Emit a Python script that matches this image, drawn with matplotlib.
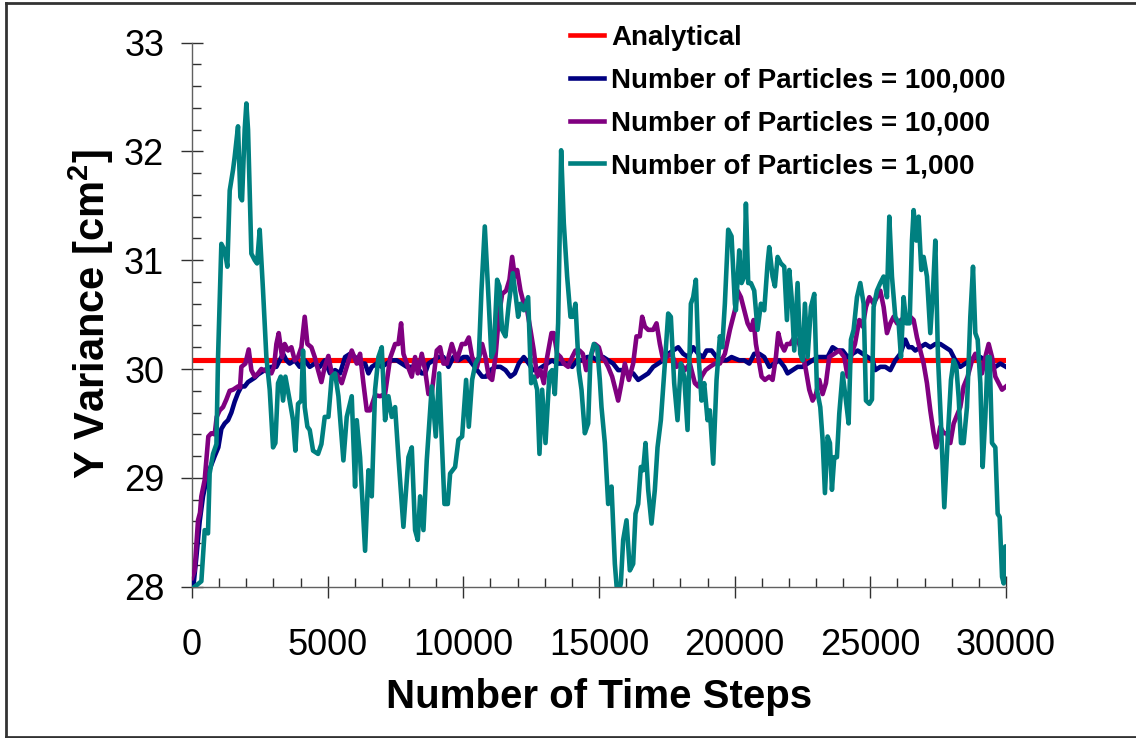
import matplotlib
matplotlib.use("Agg")
import matplotlib.pyplot as plt
from matplotlib.lines import Line2D
from matplotlib.ticker import MultipleLocator

plt.rcParams['font.family'] = ['Liberation Sans', 'DejaVu Sans']
plt.rcParams['mathtext.fontset'] = 'custom'
plt.rcParams['mathtext.rm'] = 'Liberation Sans'
plt.rcParams['mathtext.bf'] = 'Liberation Sans:bold'

# ---- data -------------------------------------------------------------
analytical_value = 30.08
x_range = [0, 30000]

steps_100k = [50, 160, 283, 406, 529, 652, 836, 970, 1082, 1205, 1328, 1451, 1573, 1696,
              1819, 1942, 2065, 2188, 2311, 2434, 2557, 2741, 2925, 3110, 3233, 3356, 3479,
              3601, 3786, 3970, 4154, 4339, 4523, 4707, 4892, 5088, 5273, 5457, 5641, 5826,
              6010, 6194, 6379, 6502, 6625, 6809, 6993, 7178, 7362, 7546, 7731, 7915, 8100,
              8284, 8468, 8591, 8714, 8898, 9083, 9267, 9451, 9636, 9820, 10004, 10139, 10324,
              10508, 10693, 10840, 11000, 11184, 11368, 11553, 11737, 11897, 12045, 12229,
              12413, 12560, 12720, 12905, 13089, 13273, 13458, 13642, 13826, 14011, 14195,
              14379, 14564, 14748, 14932, 15153, 15338, 15522, 15706, 15891, 16075, 16259,
              16444, 16628, 16813, 16997, 17181, 17366, 17550, 17734, 17919, 18103, 18287,
              18472, 18656, 18840, 18963, 19148, 19332, 19516, 19701, 19885, 20168, 20353,
              20537, 20721, 20906, 21090, 21274, 21459, 21643, 21828, 21950, 22135, 22319,
              22503, 22688, 22872, 23057, 23241, 23425, 23609, 23794, 23978, 24163, 24347,
              24532, 24716, 24900, 25084, 25182, 25367, 25551, 25736, 25920, 26104, 26289,
              26411, 26534, 26657, 26842, 27026, 27210, 27395, 27579, 27763, 27948, 28132,
              28316, 28501, 28685, 28869, 29054, 29238, 29422, 29607, 29791, 30000]
var_100k = [28.00, 28.27, 28.60, 28.83, 28.98, 29.08, 29.20, 29.28, 29.45, 29.50, 29.53, 29.60,
            29.70, 29.78, 29.84, 29.84, 29.88, 29.90, 29.92, 29.95, 29.97, 30.00, 30.02, 30.02,
            30.08, 30.14, 30.08, 30.05, 30.08, 30.02, 30.08, 30.02, 30.05, 30.02, 30.08, 29.96,
            29.99, 29.96, 30.11, 30.14, 30.11, 30.05, 30.05, 29.96, 30.02, 30.05, 30.02, 30.05,
            30.08, 30.08, 30.05, 30.02, 30.02, 30.02, 29.96, 29.96, 30.05, 30.08, 30.11, 30.11,
            30.02, 30.11, 30.08, 30.11, 30.11, 30.05, 29.99, 29.93, 29.93, 29.99, 30.02, 30.02,
            29.99, 29.93, 29.96, 30.05, 30.11, 30.05, 29.99, 29.99, 30.02, 30.05, 30.08, 30.05,
            30.05, 30.05, 30.02, 30.08, 30.08, 30.11, 30.11, 30.08, 30.11, 30.08, 30.05, 29.99,
            29.99, 29.96, 29.96, 29.90, 29.93, 29.96, 30.02, 30.05, 30.08, 30.14, 30.17, 30.20,
            30.14, 30.11, 30.20, 30.14, 30.11, 30.17, 30.17, 30.11, 30.08, 30.08, 30.11, 30.08,
            30.08, 30.05, 30.14, 30.14, 30.11, 30.02, 30.05, 30.08, 30.02, 29.96, 29.99, 30.02,
            30.02, 30.05, 30.08, 30.11, 30.11, 30.11, 30.20, 30.17, 30.17, 30.11, 30.14, 30.17,
            30.14, 30.11, 30.08, 29.99, 30.02, 30.02, 29.99, 30.08, 30.14, 30.27, 30.20, 30.20,
            30.17, 30.20, 30.23, 30.20, 30.23, 30.23, 30.20, 30.17, 30.08, 30.02, 30.05, 30.08,
            30.11, 30.11, 30.08, 30.05, 30.02, 30.05, 30.02]

steps_10k = [0, 98, 222, 295, 344, 467, 602, 713, 836, 910, 1020, 1143, 1266, 1389, 1512, 1696,
             1770, 1819, 1967, 2090, 2188, 2311, 2434, 2557, 2741, 2925, 3024, 3110, 3196, 3319,
             3417, 3540, 3663, 3786, 3908, 4031, 4154, 4253, 4400, 4523, 4646, 4769, 4892, 5027,
             5150, 5334, 5519, 5703, 5887, 6072, 6194, 6317, 6440, 6563, 6748, 6932, 7116, 7301,
             7485, 7608, 7706, 7792, 7915, 8100, 8222, 8320, 8468, 8591, 8714, 8837, 9021, 9144,
             9267, 9390, 9574, 9759, 9943, 10078, 10201, 10324, 10508, 10693, 10815, 10938,
             11061, 11184, 11307, 11430, 11577, 11700, 11799, 11897, 11983, 12106, 12229, 12352,
             12474, 12597, 12720, 12843, 12966, 13089, 13249, 13335, 13458, 13581, 13703, 13863,
             14011, 14133, 14281, 14404, 14527, 14687, 14847, 14994, 15092, 15215, 15338, 15485,
             15608, 15706, 15829, 15952, 16100, 16259, 16382, 16505, 16591, 16690, 16813, 16997,
             17120, 17243, 17366, 17489, 17673, 17857, 18017, 18164, 18349, 18533, 18656, 18779,
             18926, 19086, 19270, 19455, 19639, 19824, 20008, 20107, 20230, 20353, 20476, 20599,
             20697, 20783, 20906, 20992, 21115, 21274, 21397, 21520, 21606, 21705, 21828, 21926,
             22049, 22196, 22380, 22503, 22626, 22749, 22872, 22995, 23118, 23241, 23364, 23487,
             23671, 23855, 24040, 24163, 24310, 24433, 24593, 24716, 24839, 24962, 25121, 25244,
             25367, 25490, 25613, 25736, 25858, 25981, 26129, 26289, 26473, 26596, 26719, 26842,
             26964, 27087, 27210, 27333, 27431, 27579, 27702, 27825, 27948, 28071, 28218, 28316,
             28439, 28587, 28747, 28869, 28992, 29115, 29238, 29361, 29484, 29607, 29730, 29853,
             30000]
var_10k = [28.08, 28.15, 28.61, 28.68, 28.83, 28.98, 29.38, 29.41, 29.40, 29.56, 29.62, 29.65,
           29.72, 29.80, 29.81, 29.84, 29.83, 30.02, 30.05, 30.18, 29.99, 29.93, 29.96, 30.00,
           29.98, 29.96, 30.02, 30.23, 30.33, 30.11, 30.23, 30.17, 30.20, 30.08, 30.11, 30.20,
           30.48, 30.23, 30.20, 30.11, 29.99, 29.88, 30.02, 30.12, 29.96, 29.95, 29.87, 30.02,
           30.17, 30.05, 30.14, 29.87, 29.62, 29.62, 29.76, 29.75, 29.77, 30.10, 30.23, 30.23,
           30.42, 30.14, 30.05, 29.93, 30.11, 29.96, 30.14, 29.99, 29.77, 29.78, 30.17, 30.20,
           30.05, 30.05, 30.23, 30.08, 30.23, 30.23, 30.29, 30.11, 30.02, 30.23, 30.11, 29.93,
           29.90, 30.11, 30.48, 30.69, 30.72, 30.82, 31.03, 30.85, 30.91, 30.72, 30.60, 30.54,
           30.36, 30.17, 29.93, 29.99, 29.87, 30.11, 30.33, 30.33, 30.14, 30.11, 30.05, 30.02,
           30.11, 30.17, 30.17, 30.14, 29.99, 30.11, 30.23, 30.20, 30.11, 30.08, 30.02, 29.93,
           29.81, 29.71, 29.87, 30.05, 29.90, 30.05, 30.30, 30.30, 30.48, 30.39, 30.36, 30.36,
           30.42, 30.23, 30.08, 30.11, 30.14, 30.02, 30.05, 29.99, 30.05, 29.87, 29.84, 29.93,
           29.99, 30.02, 30.05, 30.05, 30.14, 30.36, 30.54, 30.72, 30.66, 30.54, 30.42, 30.36,
           30.45, 30.23, 30.05, 29.93, 29.90, 29.93, 29.90, 30.11, 30.33, 30.23, 30.17, 30.23,
           30.23, 30.29, 30.23, 30.14, 29.99, 29.81, 29.71, 29.77, 29.90, 29.77, 29.87, 30.11,
           30.14, 30.17, 30.11, 29.93, 30.14, 30.23, 30.45, 30.39, 30.57, 30.66, 30.60, 30.66,
           30.72, 30.57, 30.33, 30.42, 30.48, 30.42, 30.45, 30.48, 30.48, 30.45, 30.29, 30.17,
           30.05, 29.87, 29.62, 29.41, 29.28, 29.47, 29.41, 29.41, 29.32, 29.50, 29.59, 29.65,
           29.84, 29.93, 30.08, 30.14, 30.08, 29.96, 30.11, 30.23, 30.11, 29.93, 29.87, 29.81,
           29.84]

steps_1k = [100, 345, 468, 590, 650, 775, 900, 960, 1082, 1205, 1303, 1390, 1512, 1573, 1696,
            1782, 1844, 1942, 2004, 2065, 2188, 2311, 2397, 2495, 2618, 2741, 2864, 2987, 3073,
            3171, 3270, 3356, 3442, 3601, 3724, 3810, 3908, 4031, 4092, 4154, 4253, 4339, 4462,
            4646, 4769, 4892, 5027, 5150, 5273, 5396, 5580, 5703, 5887, 6010, 6072, 6194, 6379,
            6502, 6625, 6748, 6870, 6993, 7116, 7239, 7362, 7485, 7608, 7792, 7977, 8100, 8222,
            8320, 8407, 8530, 8652, 8837, 8984, 9107, 9205, 9304, 9427, 9513, 9697, 9820, 9955,
            10102, 10201, 10324, 10447, 10570, 10668, 10791, 10914, 11036, 11123, 11245, 11331,
            11430, 11553, 11676, 11823, 11921, 12020, 12106, 12229, 12388, 12499, 12597, 12720,
            12806, 12905, 13028, 13175, 13273, 13372, 13494, 13605, 13703, 13826, 13949, 14035,
            14133, 14256, 14355, 14478, 14601, 14687, 14810, 14932, 15030, 15092, 15215, 15338,
            15461, 15584, 15682, 15805, 15891, 16014, 16137, 16259, 16345, 16444, 16542, 16628,
            16714, 16813, 16935, 17058, 17157, 17280, 17427, 17550, 17648, 17771, 17894, 18017,
            18140, 18263, 18386, 18472, 18570, 18656, 18779, 18877, 19000, 19086, 19209, 19332,
            19455, 19541, 19639, 19762, 19885, 20008, 20045, 20168, 20254, 20353, 20414, 20500,
            20599, 20721, 20844, 20967, 21090, 21213, 21274, 21397, 21483, 21582, 21705, 21828,
            21926, 22012, 22098, 22196, 22319, 22417, 22503, 22589, 22688, 22811, 22934, 23032,
            23155, 23241, 23327, 23425, 23511, 23585, 23671, 23769, 23855, 23978, 24101, 24200,
            24286, 24384, 24507, 24630, 24753, 24839, 24962, 25060, 25121, 25244, 25367, 25490,
            25613, 25699, 25797, 25920, 26043, 26129, 26227, 26325, 26448, 26534, 26596, 26694,
            26780, 26878, 26964, 27087, 27210, 27309, 27395, 27493, 27604, 27726, 27849, 27972,
            28071, 28169, 28255, 28341, 28439, 28562, 28685, 28784, 28869, 28956, 29054, 29140,
            29238, 29324, 29398, 29484, 29607, 29693, 29767, 29855, 29915, 29975, 30000]
var_1k = [28.00, 28.05, 28.52, 28.49, 29.04, 29.22, 29.31, 30.11, 31.15, 31.09, 30.94, 31.64,
          31.83, 31.95, 32.23, 31.58, 31.55, 32.20, 32.44, 32.20, 31.06, 31.00, 30.97, 31.28,
          30.72, 30.11, 29.81, 29.28, 29.32, 29.87, 29.93, 29.71, 29.93, 29.71, 29.53, 29.25,
          29.68, 29.71, 30.17, 29.65, 29.47, 29.44, 29.25, 29.22, 29.31, 29.56, 29.56, 29.93,
          29.96, 29.75, 29.16, 29.56, 29.75, 28.92, 29.53, 29.19, 28.33, 29.07, 28.83, 29.81,
          30.11, 30.20, 29.53, 29.75, 29.56, 29.65, 29.19, 28.55, 29.19, 29.28, 28.52, 28.43,
          28.83, 28.52, 29.16, 29.84, 29.38, 29.96, 29.35, 28.76, 28.76, 29.04, 29.10, 29.35,
          29.38, 29.90, 29.47, 29.90, 30.05, 30.11, 30.72, 31.31, 30.72, 30.11, 30.17, 30.82,
          30.76, 30.36, 30.30, 30.60, 30.88, 30.69, 30.48, 30.60, 30.54, 30.66, 29.87, 29.93,
          29.81, 29.22, 29.81, 29.32, 29.96, 29.99, 29.77, 30.42, 32.01, 31.34, 30.85, 30.48,
          30.48, 30.60, 29.99, 29.81, 29.41, 29.50, 30.11, 30.23, 30.20, 29.90, 29.65, 29.32,
          28.76, 28.92, 28.21, 27.90, 28.03, 28.43, 28.61, 28.15, 28.21, 28.67, 28.76, 29.10,
          29.07, 29.32, 28.89, 28.58, 28.89, 29.28, 29.53, 30.05, 30.51, 30.48, 29.87, 29.53,
          30.05, 29.93, 29.44, 30.60, 30.66, 30.82, 30.17, 29.71, 29.87, 29.53, 29.62, 29.13,
          29.90, 30.30, 30.20, 30.60, 31.28, 31.22, 30.60, 30.54, 31.09, 30.79, 30.85, 31.52,
          30.79, 30.79, 30.72, 30.36, 30.60, 30.54, 30.97, 31.12, 30.85, 30.76, 31.03, 30.97,
          30.94, 30.45, 30.91, 30.66, 30.17, 30.79, 30.14, 30.08, 30.60, 30.11, 30.57, 30.69,
          29.81, 29.65, 29.35, 28.86, 29.38, 29.32, 28.89, 29.19, 29.19, 29.59, 29.96, 29.71,
          29.50, 30.27, 30.36, 30.66, 30.79, 30.60, 29.71, 29.68, 29.72, 30.57, 30.72, 30.79,
          30.85, 30.66, 31.40, 30.85, 30.48, 30.42, 30.11, 30.66, 30.42, 30.42, 31.18, 31.46,
          31.18, 31.40, 30.91, 31.03, 30.85, 30.33, 30.72, 31.18, 30.11, 29.50, 28.73, 29.35,
          29.90, 30.08, 30.02, 29.74, 29.32, 29.32, 29.65, 30.48, 30.94, 30.33, 30.27, 29.87,
          29.10, 29.56, 30.11, 30.11, 29.32, 29.28, 28.67, 28.64, 28.09, 28.03, 28.37, 28.37]

labels = ['Analytical', 'Number of Particles = 100,000',
          'Number of Particles = 10,000', 'Number of Particles = 1,000']
colors = ['#FF0000', '#000080', '#800080', '#008080']

# ---- figure -----------------------------------------------------------
W, H = 1136, 738
fig = plt.figure(figsize=(W / 100, H / 100), dpi=100)
ax = fig.add_axes([192 / W, 1 - 586.7 / H, (1006 - 192) / W, (586.7 - 42.5) / H])

lw = 3.3
ax.plot(x_range, [analytical_value, analytical_value], color=colors[0], lw=lw + 0.4,
        solid_capstyle='butt', zorder=2)
ax.plot(steps_100k, var_100k, color=colors[1], lw=lw, zorder=3)
ax.plot(steps_10k, var_10k, color=colors[2], lw=lw, zorder=4)
ax.plot(steps_1k, var_1k, color=colors[3], lw=lw, zorder=5)

ax.set_xlim(0, 30000)
ax.set_ylim(28, 33)

for side in ('top', 'right'):
    ax.spines[side].set_visible(False)
for side in ('left', 'bottom'):
    ax.spines[side].set_color('#606060')
    ax.spines[side].set_linewidth(1.0)

ax.xaxis.set_major_locator(MultipleLocator(5000))
ax.xaxis.set_minor_locator(MultipleLocator(1000))
ax.yaxis.set_major_locator(MultipleLocator(1))
ax.yaxis.set_minor_locator(MultipleLocator(0.2))

ax.tick_params(axis='both', which='major', direction='inout', length=16, width=1,
               color='#303030', labelsize=26, pad=12)
ax.tick_params(axis='both', which='minor', direction='in', length=6.5, width=1,
               color='#303030')
ax.tick_params(axis='x', which='major', pad=21.5)

ax.set_xlabel('Number of Time Steps', fontsize=29, fontweight='bold', labelpad=11)
ax.set_ylabel(r'Y Variance [cm$^{\mathbf{2}}$]', fontsize=30, fontweight='bold',
              labelpad=6)

handles = [Line2D([], [], color=c, lw=lw) for c in colors]
fig.legend(handles, labels, loc='upper left', bbox_to_anchor=(570 / W, 1 - 25 / H),
           frameon=False, prop={'size': 20, 'weight': 'bold'}, handlelength=1.22,
           handletextpad=0.25, labelspacing=0.6, borderpad=0, borderaxespad=0)

# outer frame around the whole figure
frame_kw = dict(color='#333333', lw=2, transform=fig.transFigure, clip_on=False)
fig.add_artist(Line2D([5.5 / W, 5.5 / W], [1 - 3 / H, 1 - 736.5 / H], **frame_kw))
fig.add_artist(Line2D([5.5 / W, 1.0], [1 - 3 / H, 1 - 3 / H], **frame_kw))
fig.add_artist(Line2D([5.5 / W, 1.0], [1 - 736.5 / H, 1 - 736.5 / H], **frame_kw))

fig.savefig('out.png', dpi=100)
